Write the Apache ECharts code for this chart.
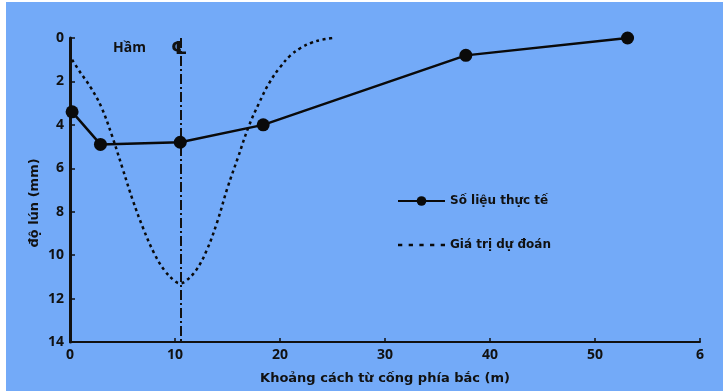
<!DOCTYPE html>
<html><head><meta charset="utf-8">
<script src="https://cdn.jsdelivr.net/npm/echarts@6/dist/echarts.min.js"></script>
<style>html,body{margin:0;padding:0;background:#fff}#c{width:723px;height:391px}</style>
</head><body><div id="c"></div>
<script>
const xTicks = [0, 10, 20, 30, 40, 50, 60];
const xTickLabels = ["0", "10", "20", "30", "40", "50", "6"];
const yTicks = [0, 2, 4, 6, 8, 10, 12, 14];
const seriesNames = ["Số liệu thực tế", "Giá trị dự đoán"];
const actualX = [0.2, 2.9, 10.5, 18.4, 37.7, 53.1];
const actualY = [3.4, 4.9, 4.8, 4.0, 0.8, 0.0];
const predX = [0.2, 1, 2, 3, 4, 5, 6, 7, 8, 9, 10, 10.5, 11, 12, 13, 14, 15, 16, 17, 18, 19, 20, 21, 22, 23, 24, 25];
const predY = [1.0, 1.6, 2.3, 3.2, 4.5, 6.0, 7.5, 8.8, 9.9, 10.7, 11.2, 11.3, 11.2, 10.7, 9.8, 8.5, 6.9, 5.5, 4.1, 3.0, 2.05, 1.35, 0.8, 0.45, 0.22, 0.08, 0.0];
const centerLineX = 10.5;
const xName = "Khoảng cách từ cống phía bắc (m)";
const yName = "độ lún (mm)";
const tunnelLabel = "Hầm";
const centerLabel = "℄";

const FONT = "'Open Sans', 'DejaVu Sans', sans-serif";
const WIDE = "'DejaVu Sans', sans-serif";
const dashIcon = 'path://M0,0h4v2.5h-4z M10,0h4v2.5h-4z M20,0h4v2.5h-4z M30,0h4v2.5h-4z M40,0h4v2.5h-4z';
const chart = echarts.init(document.getElementById('c'));
chart.setOption({
  backgroundColor: '#73aaf8',
  animation: false,
  textStyle: {fontFamily: FONT},
  grid: {left: 70, right: 23, top: 38, bottom: 49},
  legend: {
    orient: 'vertical', left: 392, top: 190, itemGap: 32, itemWidth: 47, itemHeight: 12,
    textStyle: {color: '#111', fontSize: 12, fontWeight: 'bold', fontFamily: WIDE},
    data: [{name: seriesNames[0]}, {name: seriesNames[1], icon: dashIcon}]
  },
  xAxis: {
    type: 'value', min: 0, max: 60, interval: 10,
    name: xName, nameLocation: 'middle', nameGap: 30,
    nameTextStyle: {color: '#111', fontSize: 13, fontWeight: 'bold', fontFamily: WIDE},
    axisLine: {onZero: false, lineStyle: {color: '#111', width: 2}},
    axisTick: {inside: true, length: 4, lineStyle: {color: '#111', width: 1.5}},
    axisLabel: {color: '#111', fontSize: 14, fontWeight: 'bold', margin: 6,
      formatter: v => xTickLabels[xTicks.indexOf(v)]},
    splitLine: {show: false}
  },
  yAxis: {
    type: 'value', min: 0, max: 14, interval: 2, inverse: true,
    axisLine: {onZero: false, lineStyle: {color: '#111', width: 3}},
    axisTick: {inside: true, length: 5, lineStyle: {color: '#111', width: 1.5}},
    axisLabel: {color: '#111', fontSize: 14, fontWeight: 'bold', margin: 6,
      formatter: v => yTicks.includes(v) ? String(v) : ''},
    splitLine: {show: false}
  },
  series: [
    {
      name: seriesNames[0], type: 'line',
      data: actualX.map((x, i) => [x, actualY[i]]),
      symbol: 'circle', symbolSize: 13,
      itemStyle: {color: '#0a0a0a'},
      lineStyle: {color: '#0a0a0a', width: 2.5},
      z: 5,
      markLine: {
        silent: true, symbol: 'none', label: {show: false},
        lineStyle: {color: '#111', width: 2, type: [10, 3, 2, 3]},
        data: [{xAxis: centerLineX}]
      }
    },
    {
      name: seriesNames[1], type: 'line', smooth: 0.4,
      data: predX.map((x, i) => [x, predY[i]]),
      showSymbol: false, symbol: 'none',
      itemStyle: {color: '#0a0a0a'},
      lineStyle: {color: '#0a0a0a', width: 2.5, type: [3, 3.5]}
    }
  ],
  graphic: [
    {type: 'rect', left: 0, top: 0, shape: {width: 6, height: 391}, style: {fill: '#fff'}},
    {type: 'rect', left: 0, top: 0, shape: {width: 723, height: 2}, style: {fill: '#fff'}},
    {type: 'text', left: 113, top: 41, style: {text: tunnelLabel, fill: '#111', font: 'bold 14px ' + FONT}},
    {type: 'text', left: 171, top: 40, style: {text: centerLabel, fill: '#111', font: 'bold 18px DejaVu Sans, sans-serif'}},
    {type: 'text', x: 35, y: 203, rotation: Math.PI / 2,
      style: {text: yName, fill: '#111', font: 'bold 13px ' + WIDE, align: 'center', verticalAlign: 'middle'}}
  ]
});
</script></body></html>
